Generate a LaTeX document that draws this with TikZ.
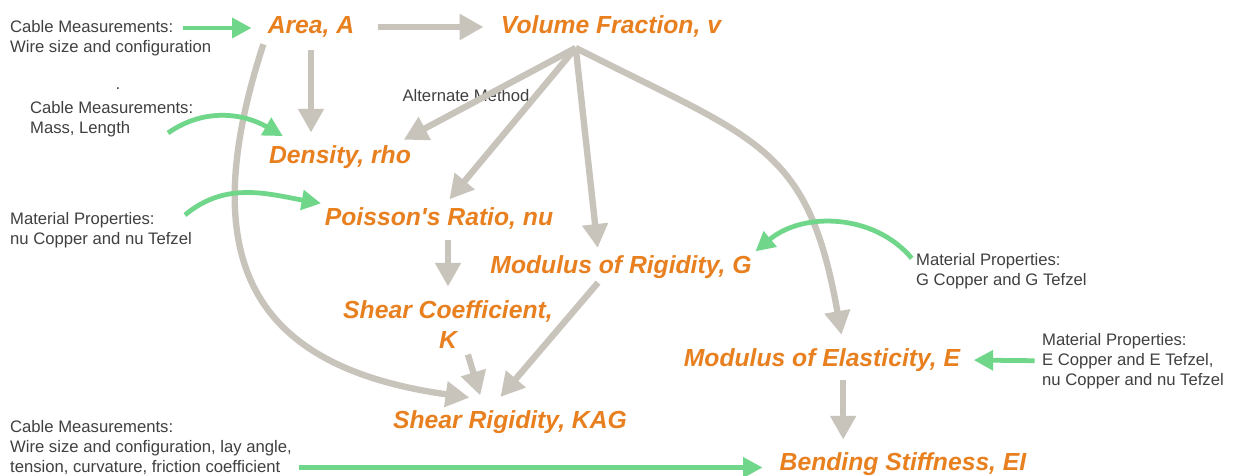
\documentclass[tikz,border=0pt]{standalone}
\usepackage{fontspec}
\setmainfont{Liberation Sans}
\usetikzlibrary{arrows.meta, positioning}

\definecolor{qorange}{RGB}{232,128,32}
\definecolor{linkgray}{RGB}{200,196,187}
\definecolor{feedgreen}{RGB}{112,214,138}
\definecolor{notegray}{RGB}{64,64,64}

\begin{document}
\begin{tikzpicture}[x=0.5669pt, y=0.5669pt,
  qtybase/.style={text=qorange, font=\fontsize{14}{17}\selectfont\bfseries\itshape, inner sep=2pt},
  qty/.style={qtybase, text height=10.3pt, text depth=3pt},
  note/.style={text=notegray, font=\fontsize{9.45}{11}\selectfont, anchor=west,
    inner xsep=1pt, inner ysep=0.5pt, text height=7.5pt, text depth=2.3pt},
  nextline/.style={note, below right=0pt and 0pt of #1.south west},
  link/.style={draw=linkgray, line width=3.6pt, shorten <=4pt, shorten >=5pt,
    -{Triangle[length=13.5pt, width=14pt]}},
  feed/.style={draw=feedgreen, line width=2.7pt,
    -{Triangle[length=11pt, width=11pt]}}]
  \fill[white] (0,0) rectangle (1240,475);
  \useasboundingbox (0,0) rectangle (1240,475);

  % quantities
  \node[qty] (area) at (311,448) {Area, A};
  \node[qty] (vol)  at (611,448) {Volume Fraction, v};
  \node[qty] (dens) at (340,318) {Density, rho};
  \node[qty] (pois) at (439,256) {Poisson\textquotesingle s Ratio, nu};
  \node[qty] (rig)  at (621,208) {Modulus of Rigidity, G};
  \node[qtybase, align=center] (shc) at (448,150) {Shear Coefficient,\\K};
  \node[qty] (kag)  at (510,53) {Shear Rigidity, KAG};
  \node[qty] (elas) at (822,115) {Modulus of Elasticity, E};
  \node[qty] (bend) at (903,11) {Bending Stiffness, EI};

  % inputs
  \node[note] (n1a) at (8,447) {Cable Measurements:};
  \node[nextline=n1a] (n1b) {Wire size and configuration};
  \node[note, anchor=center] (dot) at (118,390) {.};
  \node[note] (n2a) at (28,366) {Cable Measurements:};
  \node[nextline=n2a] (n2b) {Mass, Length};
  \node[note] (n3a) at (8,255) {Material Properties:};
  \node[nextline=n3a] (n3b) {nu Copper and nu Tefzel};
  \node[note] (n4a) at (914,214) {Material Properties:};
  \node[nextline=n4a] (n4b) {G Copper and G Tefzel};
  \node[note] (n5a) at (1040,134) {Material Properties:};
  \node[nextline=n5a] (n5b) {E Copper and E Tefzel,};
  \node[nextline=n5b] (n5c) {nu Copper and nu Tefzel};
  \node[note] (n6a) at (8,47) {Cable Measurements:};
  \node[nextline=n6a] (n6b) {Wire size and configuration, lay angle,};
  \node[nextline=n6b] (n6c) {tension, curvature, friction coefficient};
  \node[note, anchor=center] (alt) at (466,378) {Alternate Method};

  \coordinate (hub) at ([shift={(-20pt,-3pt)}]vol.south);
  \coordinate (m2) at (168,342);
  \coordinate (m3) at (185,260);

  % derived quantities
  \draw[link, shorten <=11pt, shorten >=7.7pt] (area.east) -- (vol.west);
  \draw[link, shorten <=4.4pt] (area.south) -- (area.south |- dens.north);
  \draw[link, shorten <=0pt, shorten >=2pt] (hub) -- ([xshift=-8pt]dens.north east);
  \draw[link, shorten <=0pt, shorten >=3pt] (hub) -- ([xshift=4pt]pois.north);
  \draw[link, shorten <=0pt, shorten >=2pt] (hub) -- ([xshift=-13pt]rig.north);
  \draw[link, shorten <=0pt, shorten >=5.5pt] (hub) to[out=-27, in=100, looseness=1.3] ([xshift=12pt]elas.north);
  \draw[link, shorten <=1pt, shorten >=0pt] (area.south west) to[out=252, in=172, looseness=1.4] ([shift={(-23pt,5pt)}]kag.north);
  \draw[link, shorten <=3pt, shorten >=6pt] (shc.north |- pois.south) -- (shc.north);
  \draw[link, shorten <=1pt, shorten >=6.5pt] ([xshift=11pt]shc.south) -- ([xshift=-15pt]kag.north);
  \draw[link, shorten <=0pt, shorten >=7pt] ([xshift=-13pt]rig.south) -- ([xshift=-10pt]kag.north);
  \draw[link, shorten <=2.7pt, shorten >=5pt] ([xshift=12pt]elas.south) -- ([xshift=12pt]elas.south |- bend.north);

  % measured inputs
  \draw[feed, shorten <=4.5pt, shorten >=7pt] (n1a.east) -- (n1a.east -| area.west);
  \draw[feed] (m2) to[out=35, in=150] ([shift={(10pt,3pt)}]dens.north west);
  \draw[feed] (m3) to[out=40, in=170] (pois.north west);
  \draw[feed, shorten <=2pt] (n4a.west) to[out=130, in=40] (rig.north east);
  \draw[feed, shorten <=3pt, shorten >=5.5pt] (n5b.west) -- (elas.east);
  \draw[feed, shorten <=9.5pt, shorten >=7.5pt] (n6c.east) -- (n6c.east -| bend.west);
\end{tikzpicture}
\end{document}
